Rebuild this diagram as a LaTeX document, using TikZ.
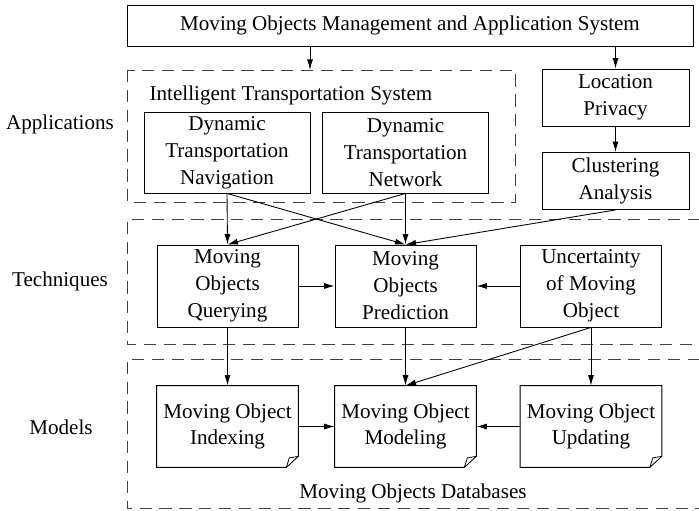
\documentclass[tikz,border=0pt]{standalone}
\usepackage{fontspec}
\setmainfont{Liberation Serif}
\usetikzlibrary{arrows.meta,calc}

\tikzset{
  blk/.style={draw, line width=0.5pt, align=center, inner sep=1pt},
  bigblk/.style={blk, minimum width=3.32cm, minimum height=1.62cm},
  midblk/.style={blk, minimum width=2.82cm, minimum height=1.64cm},
  sideblk/.style={blk, minimum width=2.94cm, minimum height=1.14cm},
  doc/.style={align=center, inner sep=1pt, minimum width=2.82cm, minimum height=1.62cm},
  region/.style={draw=black!75, line width=0.55pt, dash pattern=on 7pt off 4.3pt},
  link/.style={line width=0.5pt, -{Latex[length=6pt,width=3.4pt]}}
}

\begin{document}
\begin{tikzpicture}[x=0.02cm, y=-0.02cm, font=\fontsize{12}{15.3}\selectfont]
\useasboundingbox (0,0) rectangle (699,510);

% system on top
\node [blk, minimum width=11.32cm, minimum height=0.82cm] (top) at (410,25.5)
  {Moving Objects Management and Application System};

% applications
\draw [region] (127,70) rectangle (515,202);
\coordinate (itstop) at (310,70);
\node at (291,95) {Intelligent Transportation System};
\node [bigblk] (dtn) at (227,152.5) {Dynamic\\Transportation\\Navigation};
\node [bigblk] (dtnet) at (405.5,152.5) {Dynamic\\Transportation\\Network};
\node [sideblk] (lp) at (615.5,97.5) {Location\\Privacy};
\node [sideblk] (ca) at (615.5,181) {Clustering\\Analysis};

% techniques
\draw [region] (700,219) -- (127,219) -- (127,344) -- (700,344);
\node [midblk] (moq) at (227.5,286) {Moving\\Objects\\Querying};
\node [midblk] (mop) at (405.5,286) {Moving\\Objects\\Prediction};
\node [midblk] (umo) at (591,286) {Uncertainty\\of Moving\\Object};

% models
\draw [region] (700,359) -- (127,359) -- (127,508) -- (700,508);
\node [doc] (moi) at (227.5,426.5) {Moving Object\\Indexing};
\node [doc] (mom) at (405.5,426.5) {Moving Object\\Modeling};
\node [doc] (mou) at (591,426.5) {Moving Object\\Updating};
\foreach \n in {moi,mom,mou} {
  \draw [line width=0.5pt] (\n.north west) -- (\n.north east)
    -- ([yshift=0.22cm]\n.south east) -- ([xshift=-0.24cm]\n.south east)
    -- (\n.south west) -- cycle;
  \draw [line width=0.45pt] ([xshift=-0.24cm]\n.south east)
    -- ([xshift=-0.18cm,yshift=0.19cm]\n.south east)
    -- ([yshift=0.22cm]\n.south east);
}
\node at (413,493) {Moving Objects Databases};

% layer names
\node at (60,124) {Applications};
\node at (60,281) {Techniques};
\node at (61,427) {Models};

% connections
\draw [link] (top.south -| itstop) -- (itstop);
\draw [link] (top.south -| lp.north) -- (lp.north);
\draw [link] (lp) -- (ca);
\draw [link] (dtn.south) -- (moq.north);
\draw [link] (dtn.south) -- (mop.north);
\draw [link] (dtnet.south) -- (moq.north);
\draw [link] (dtnet.south) -- (mop.north);
\draw [link] (ca.south) -- (mop.north);
\draw [link] (moq) -- (mop);
\draw [link] (umo) -- (mop);
\draw [link] (moq) -- (moi);
\draw [link] (mop) -- (mom);
\draw [link] (umo.south) -- (mom.north);
\draw [link] (umo) -- (mou);
\draw [link] (moi) -- (mom);
\draw [link] (mou) -- (mom);
\end{tikzpicture}
\end{document}
